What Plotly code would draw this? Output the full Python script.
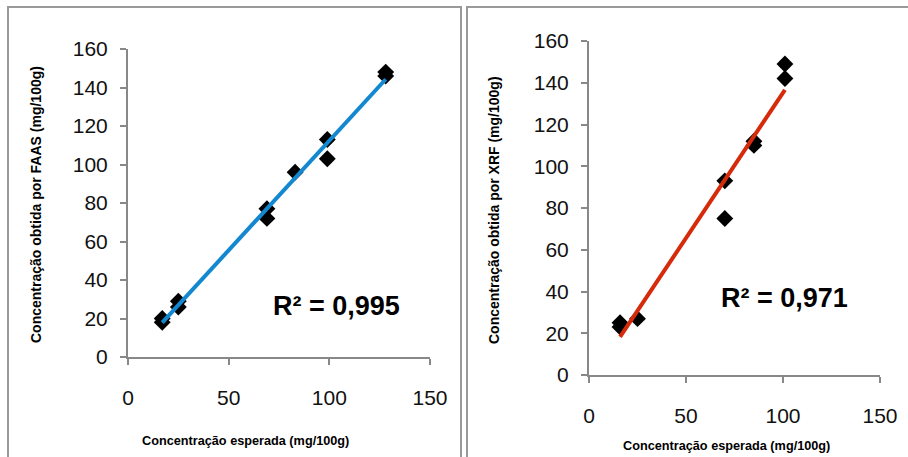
import numpy as np
import plotly.graph_objects as go

# Left chart: FAAS
faas_expected = [17, 17, 25, 25, 69, 69, 83, 99, 99, 128, 128]
faas_obtained = [20, 18, 29, 26, 77, 72, 96, 113, 103, 148, 146]
faas_r2 = "R² = 0,995"

# Right chart: XRF
xrf_expected = [16, 16, 25, 70, 70, 85, 85, 101, 101]
xrf_obtained = [25, 23, 27, 93, 75, 112, 110, 149, 142]
xrf_r2 = "R² = 0,971"

x_ticks = [0, 50, 100, 150]
y_ticks = [0, 20, 40, 60, 80, 100, 120, 140, 160]

x_title = "Concentração esperada (mg/100g)"
y_title_left = "Concentração obtida por FAAS (mg/100g)"
y_title_right = "Concentração obtida por XRF (mg/100g)"

W, H = 908, 457
FONT = "Liberation Sans, Arial, sans-serif"


def trend(xs, ys):
    m, b = np.polyfit(xs, ys, 1)
    xa = np.array([min(xs), max(xs)])
    return xa, m * xa + b


fig = go.Figure()

lx, ly = trend(faas_expected, faas_obtained)
fig.add_trace(go.Scatter(x=faas_expected, y=faas_obtained, mode="markers",
                         marker=dict(symbol="diamond", size=13, color="black"),
                         xaxis="x", yaxis="y", showlegend=False))
fig.add_trace(go.Scatter(x=lx, y=ly, mode="lines", line=dict(color="#1388D0", width=4),
                         xaxis="x", yaxis="y", showlegend=False))

rx, ry = trend(xrf_expected, xrf_obtained)
fig.add_trace(go.Scatter(x=xrf_expected, y=xrf_obtained, mode="markers",
                         marker=dict(symbol="diamond", size=13, color="black"),
                         xaxis="x2", yaxis="y2", showlegend=False))
fig.add_trace(go.Scatter(x=rx, y=ry, mode="lines", line=dict(color="#D62A0C", width=4),
                         xaxis="x2", yaxis="y2", showlegend=False))

axis_common = dict(showgrid=False, zeroline=False, showline=True, linecolor="#888888",
                   linewidth=2, ticks="outside", tickcolor="#888888", ticklen=6,
                   tickwidth=2, tickfont=dict(family=FONT, size=21, color="#111111"),
                   fixedrange=True, automargin=False)

def px_x(p):
    return p / W

def px_y(p):
    return 1 - p / H

fig.update_layout(
    template="none",
    width=W, height=H, margin=dict(l=0, r=0, t=0, b=0, autoexpand=False),
    paper_bgcolor="white", plot_bgcolor="white", showlegend=False,
    xaxis=dict(domain=[px_x(128), px_x(430)], range=[0, 150], tickvals=x_ticks,
               anchor="y", ticklabelstandoff=15, **axis_common),
    yaxis=dict(domain=[px_y(357), px_y(49)], range=[0, 160], tickvals=y_ticks,
               anchor="x", ticklabelstandoff=8, **axis_common),
    xaxis2=dict(domain=[px_x(589), px_x(880)], range=[0, 150], tickvals=x_ticks,
                anchor="y2", ticklabelstandoff=15, **axis_common),
    yaxis2=dict(domain=[px_y(375), px_y(41)], range=[0, 160], tickvals=y_ticks,
                anchor="x2", ticklabelstandoff=8, **axis_common),
)

frame = dict(type="rect", xref="paper", yref="paper", line=dict(color="#999999", width=2),
             fillcolor="rgba(0,0,0,0)", layer="below")
fig.add_shape(x0=px_x(8), x1=px_x(461), y0=-0.2, y1=px_y(7), **frame)
fig.add_shape(x0=px_x(467), x1=1.2, y0=-0.2, y1=px_y(7), **frame)

def note(text, x, y, size, angle=0):
    fig.add_annotation(text=text, x=px_x(x), y=px_y(y), xref="paper", yref="paper",
                       showarrow=False, textangle=angle, xanchor="center", yanchor="middle",
                       font=dict(family=FONT, size=size, color="black"))

note("<b>" + x_title + "</b>", 245, 441, 12.7)
note("<b>" + x_title + "</b>", 726, 446, 12.7)
note("<b>" + y_title_left + "</b>", 36, 205, 14, -90)
note("<b>" + y_title_right + "</b>", 494, 210, 14, -90)
note("<b>" + faas_r2 + "</b>", 336, 306, 27)
note("<b>" + xrf_r2 + "</b>", 784, 298, 27)

fig.write_html("out.html", config={"displayModeBar": False, "staticPlot": True},
               post_script="document.body.style.margin='0';document.body.style.overflow='hidden';")
